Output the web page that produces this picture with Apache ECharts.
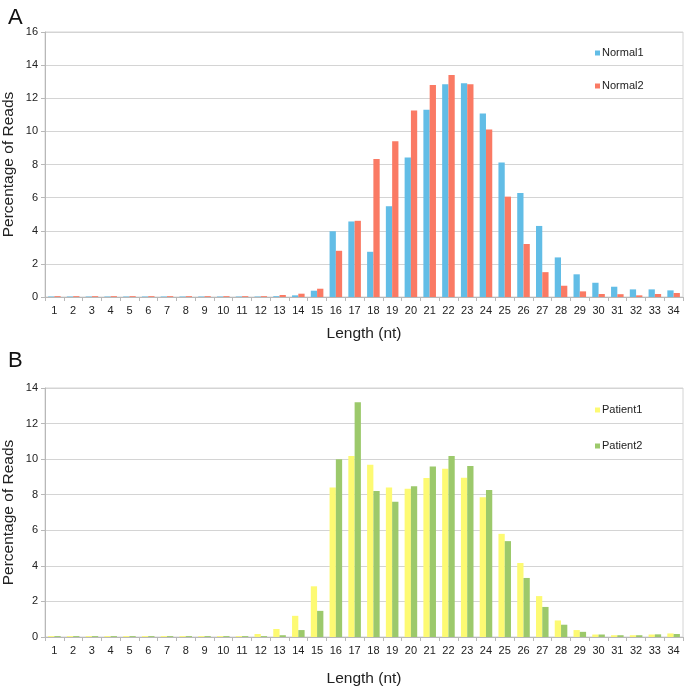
<!DOCTYPE html>
<html>
<head>
<meta charset="utf-8">
<script src="https://cdn.jsdelivr.net/npm/echarts@6/dist/echarts.min.js"></script>
<style>
html,body{margin:0;padding:0;background:#fff;}
#chart{width:685px;height:694px;}
</style>
</head>
<body>
<div id="chart"></div>
<script>
var categories = ['1','2','3','4','5','6','7','8','9','10','11','12','13','14','15','16','17','18','19','20','21','22','23','24','25','26','27','28','29','30','31','32','33','34'];
var normal1 = [0.03,0.03,0.03,0.03,0.03,0.03,0.03,0.03,0.03,0.03,0.03,0.03,0.05,0.1,0.38,3.97,4.56,2.73,5.48,8.43,11.3,12.85,12.9,11.08,8.12,6.28,4.29,2.39,1.37,0.86,0.62,0.46,0.46,0.4];
var normal2 = [0.05,0.05,0.05,0.05,0.05,0.05,0.05,0.05,0.05,0.05,0.05,0.05,0.12,0.2,0.5,2.79,4.6,8.33,9.41,11.26,12.8,13.4,12.85,10.12,6.06,3.2,1.5,0.68,0.34,0.18,0.17,0.1,0.18,0.24];
var patient1 = [0.05,0.05,0.05,0.05,0.05,0.05,0.05,0.05,0.05,0.05,0.05,0.17,0.45,1.19,2.85,8.4,10.17,9.68,8.4,8.34,8.94,9.46,8.96,7.86,5.8,4.16,2.3,0.93,0.39,0.14,0.1,0.1,0.14,0.2];
var patient2 = [0.05,0.05,0.05,0.05,0.05,0.05,0.05,0.05,0.05,0.05,0.05,0.05,0.1,0.39,1.47,10.0,13.2,8.21,7.61,8.47,9.59,10.18,9.62,8.27,5.39,3.32,1.69,0.69,0.29,0.14,0.1,0.1,0.15,0.17];
var yTicksA = {min: 0, max: 16, interval: 2};
var yTicksB = {min: 0, max: 14, interval: 2};

var FONT = 'Liberation Sans, Arial, Helvetica, sans-serif';
var chart = echarts.init(document.getElementById('chart'), null, {renderer: 'canvas'});

function xAx(gi, nameGap) {
  return {
    type: 'category', gridIndex: gi, data: categories,
    boundaryGap: true,
    name: 'Length (nt)', nameLocation: 'middle', nameGap: nameGap,
    nameMoveOverlap: false,
    nameTextStyle: {fontFamily: FONT, fontSize: 15.5, color: '#222'},
    axisLine: {lineStyle: {color: '#b8b8b8', width: 1}},
    axisTick: {show: true, alignWithLabel: false, length: 4, lineStyle: {color: '#b8b8b8'}},
    axisLabel: {fontFamily: FONT, fontSize: 11, color: '#222', margin: 8, interval: 0}
  };
}
function yAx(gi, t) {
  return {
    type: 'value', gridIndex: gi, min: t.min, max: t.max, interval: t.interval,
    name: 'Percentage of Reads', nameLocation: 'middle', nameGap: 28,
    nameMoveOverlap: false,
    nameTextStyle: {fontFamily: FONT, fontSize: 15.5, color: '#222'},
    axisLine: {show: true, lineStyle: {color: '#b8b8b8', width: 1}},
    axisTick: {show: true, length: 4, lineStyle: {color: '#b8b8b8'}},
    axisLabel: {fontFamily: FONT, fontSize: 11, color: '#222', margin: 7},
    splitLine: {show: true, lineStyle: {color: '#d4d4d4', width: 1}}
  };
}
function bar(name, data, gi, color) {
  return {
    type: 'bar', name: name, data: data, xAxisIndex: gi, yAxisIndex: gi,
    barGap: '0%', barCategoryGap: '33%',
    itemStyle: {color: color}
  };
}
function legend(names, top, gap) {
  return {
    data: names, orient: 'vertical', left: 590, top: top, itemGap: gap,
    icon: 'rect', itemWidth: 5, itemHeight: 5,
    textStyle: {fontFamily: FONT, fontSize: 11, color: '#222', lineHeight: 12, padding: [0, 0, 0, -3]}
  };
}

chart.setOption({
  animation: false,
  backgroundColor: '#ffffff',
  title: [
    {text: 'A', left: 3, top: 2, textStyle: {fontFamily: FONT, fontSize: 22, fontWeight: 'normal', color: '#111'}},
    {text: 'B', left: 3, top: 345, textStyle: {fontFamily: FONT, fontSize: 22, fontWeight: 'normal', color: '#111'}}
  ],
  grid: [
    {left: 45, right: 2, top: 32, height: 265, show: true, borderColor: '#d4d4d4', borderWidth: 1, containLabel: false, outerBoundsMode: 'none'},
    {left: 45, right: 2, top: 388, height: 249, show: true, borderColor: '#d4d4d4', borderWidth: 1, containLabel: false, outerBoundsMode: 'none'}
  ],
  legend: [legend(['Normal1', 'Normal2'], 42, 21), legend(['Patient1', 'Patient2'], 399, 24)],
  xAxis: [xAx(0, 29), xAx(1, 34)],
  yAxis: [yAx(0, yTicksA), yAx(1, yTicksB)],
  series: [
    bar('Normal1', normal1, 0, '#62bde6'),
    bar('Normal2', normal2, 0, '#fa7a64'),
    bar('Patient1', patient1, 1, '#fdfa73'),
    bar('Patient2', patient2, 1, '#9cc96b')
  ]
});
</script>
</body>
</html>
